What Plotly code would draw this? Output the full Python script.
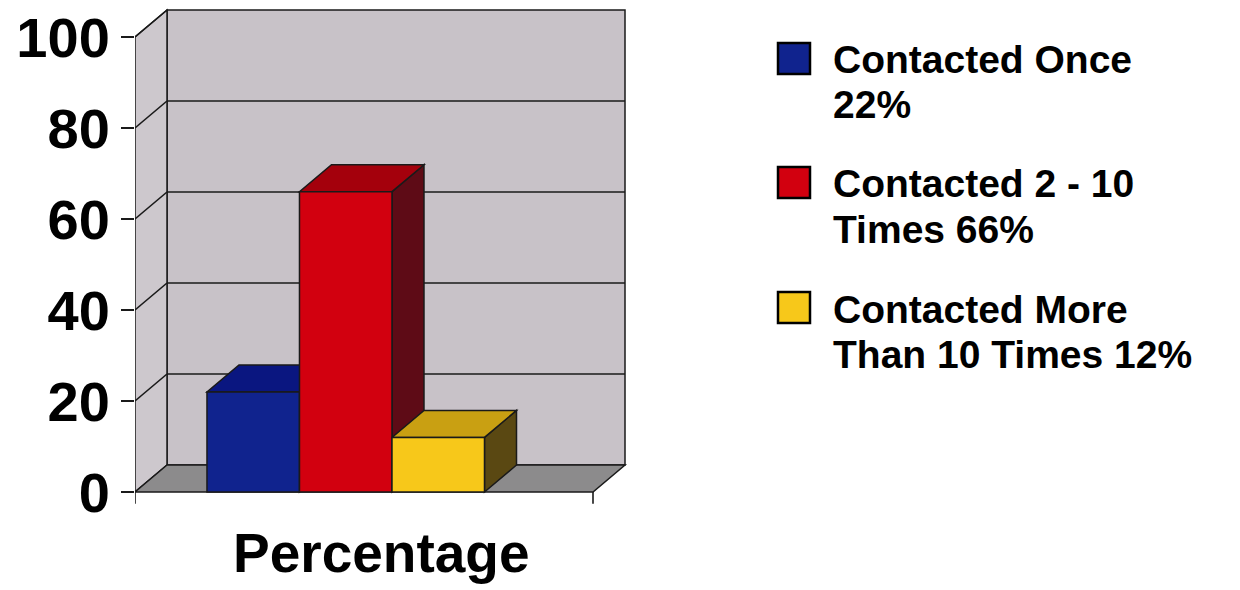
import plotly.graph_objects as go

# ---- data -------------------------------------------------------------
categories = ["Contacted Once", "Contacted 2 - 10 Times", "Contacted More Than 10 Times"]
values = [22, 66, 12]
legend_lines = [("Contacted Once", "{}%"),
                ("Contacted 2 - 10", "Times {}%"),
                ("Contacted More", "Than 10 Times {}%")]
y_ticks = [0, 20, 40, 60, 80, 100]
axis_title = "Percentage"

# ---- style ------------------------------------------------------------
W, H = 1240, 590
FONT = "Liberation Sans, Arial, Helvetica, sans-serif"
front = ["#10238e", "#d2000f", "#f7c81a"]
top = ["#0a1680", "#a4000c", "#c9a012"]
side = ["#071060", "#5e0b16", "#5a4812"]
WALL = "#c8c2c8"
SIDE_WALL = "#cdc8cd"
FLOOR = "#8c8b8c"
EDGE = "#1a1a1a"

# 3-D depth offset of the box, in axis units
DX = 0.346
DY = 5.93
X0, X1 = -1.278, 3.673          # front-left / front-right of the floor
X_RANGE = [X0, 4.073]
Y_RANGE = [-3.08, 106.37]
TICK_DROP = -2.6                 # little tick below the floor front edge


def px(x):
    return x / W


def py(y):
    return 1 - y / H


def poly(points):
    return "M " + " L ".join(f"{x},{y}" for x, y in points) + " Z"


shapes = []


def add_path(points, fill, width=1.5):
    shapes.append(dict(type="path", xref="x", yref="y", layer="below",
                       path=poly(points), fillcolor=fill,
                       line=dict(color=EDGE, width=width)))


def add_line(xa, ya, xb, yb, width=1.6):
    shapes.append(dict(type="line", xref="x", yref="y", layer="below",
                       x0=xa, y0=ya, x1=xb, y1=yb,
                       line=dict(color=EDGE, width=width)))


ymax = y_ticks[-1]
# back wall, left wall and floor
add_path([(X0 + DX, DY), (X1 + DX, DY), (X1 + DX, ymax + DY), (X0 + DX, ymax + DY)], WALL)
add_path([(X0, 0), (X0 + DX, DY), (X0 + DX, ymax + DY), (X0, ymax)], SIDE_WALL)
add_path([(X0, 0), (X1, 0), (X1 + DX, DY), (X0 + DX, DY)], FLOOR)

# gridlines on the walls
for v in y_ticks[1:]:
    add_line(X0, v, X0 + DX, v + DY)
    if v < ymax:
        add_line(X0 + DX, v + DY, X1 + DX, v + DY)

# ticks under the floor front edge
add_line(X0, 0, X0, TICK_DROP)
add_line(X1, 0, X1, TICK_DROP)

# bar sides first, then tops, so nearer tops cover farther sides
xs = list(range(len(values)))
for i, v in zip(xs, values):
    add_path([(i + 0.5, 0), (i + 0.5 + DX, DY), (i + 0.5 + DX, v + DY), (i + 0.5, v)], side[i])
for i, v in zip(xs, values):
    add_path([(i - 0.5, v), (i + 0.5, v), (i + 0.5 + DX, v + DY), (i - 0.5 + DX, v + DY)], top[i])

fig = go.Figure()
for i, (name, v) in enumerate(zip(categories, values)):
    fig.add_trace(go.Bar(
        x=[i], y=[v], width=1, name=name,
        marker=dict(color=front[i], line=dict(color=EDGE, width=1.5)),
        showlegend=False, hoverinfo="skip",
    ))

# legend drawn as squares + two-line labels
annotations = []
legend_top = [43, 167, 292]
LINE_GAP = 45
for i, v in enumerate(values):
    t = legend_top[i]
    shapes.append(dict(type="rect", xref="paper", yref="paper",
                       x0=px(778), x1=px(810), y0=py(t), y1=py(t + 31),
                       fillcolor=front[i], line=dict(color="#000000", width=2.5)))
    first, second = legend_lines[i]
    for k, line in enumerate([first, second.format(v)]):
        annotations.append(dict(
            xref="paper", yref="paper", x=px(831), y=py(t + 17 + k * LINE_GAP),
            xanchor="left", yanchor="middle", align="left", showarrow=False,
            text=line,
            font=dict(family=FONT, size=39, color="#000000", weight="bold"),
        ))

annotations.append(dict(
    xref="paper", yref="paper", x=px(381), y=py(553),
    xanchor="center", yanchor="middle", showarrow=False, text=axis_title,
    font=dict(family=FONT, size=55, color="#000000", weight="bold"),
))

fig.update_layout(
    width=W, height=H,
    margin=dict(l=0, r=0, t=0, b=0, autoexpand=False),
    paper_bgcolor="#ffffff", plot_bgcolor="rgba(0,0,0,0)",
    barmode="overlay", showlegend=False,
    shapes=shapes, annotations=annotations,
    xaxis=dict(domain=[px(135), px(630)], range=X_RANGE, visible=False,
               automargin=False, fixedrange=True),
    yaxis=dict(domain=[py(506), py(8)], range=Y_RANGE, automargin=False,
               tickmode="array", tickvals=y_ticks, ticktext=[str(t) for t in y_ticks],
               ticks="outside", ticklen=13, tickwidth=1.5, tickcolor=EDGE,
               showgrid=False, zeroline=False, showline=False,
               tickfont=dict(family=FONT, size=56, color="#000000", weight="bold"),
               fixedrange=True),
)

fig.write_html("out.html")
